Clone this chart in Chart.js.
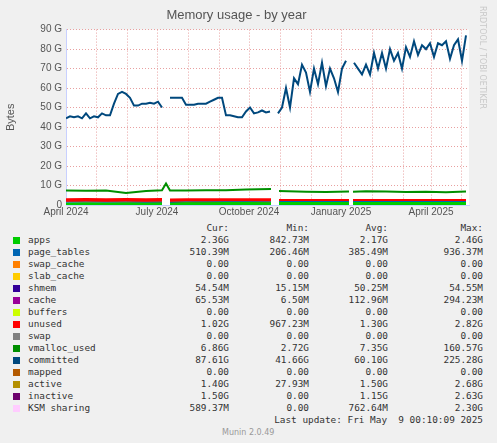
<!DOCTYPE html>
<html><head><meta charset="utf-8">
<script src="https://cdn.jsdelivr.net/npm/chart.js@4"></script>
<style>
body{margin:0;background:#f0f0f0;width:497px;height:443px;overflow:hidden;font-family:"DejaVu Sans",sans-serif}
#wrap{position:absolute;left:0;top:0;width:497px;height:222px}
#rrd{position:absolute;left:478px;top:6px;writing-mode:vertical-rl;font-size:8px;color:#c8c8c8}
table{position:absolute;left:10px;top:222px;border-collapse:collapse;font-family:"DejaVu Sans Mono",monospace;font-size:9.4px;color:#333;table-layout:fixed}
td{padding:0;height:12px;line-height:12px;white-space:pre;text-align:right;overflow:visible}
td.n{text-align:left}
.sw{display:inline-block;width:7px;height:7px;margin:0 8px 0 3px;vertical-align:-0.5px}
#upd{position:absolute;right:14px;top:414px;font-family:"DejaVu Sans Mono",monospace;font-size:9.4px;color:#333;white-space:pre}
#mun{position:absolute;left:222px;top:428px;font-size:8px;color:#999}
</style></head><body>
<div id="wrap"><canvas id="c"></canvas></div>
<div id="rrd">RRDTOOL / TOBI OETIKER</div>
<table id="leg"></table>
<div id="upd">Last update: Fri May  9 00:10:09 2025</div>
<div id="mun">Munin 2.0.49</div>
<script>
// days since 2024-04-01
const monthDays = [0,30,61,91,122,153,183,214,245,275,306,337,365,395];
const monthLabels = {0:"April 2024",91:"July 2024",183:"October 2024",275:"January 2025",365:"April 2025"};

const committedDays = [0,4,8,12,16,20,24,28,32,36,40,44,48,52,56,60,64,68,72,76,80,84,88,92,96,100,104,108,112,116,120,124,128,132,136,140,144,148,152,156,160,164,168,172,176,180,184,188,192,196,200,204,208,212,216,220,224,228,232,236,240,244,248,252,256,260,264,268,272,276,280,284,288,292,296,300,304,308,312,316,320,324,328,332,336,340,344,348,352,356,360,364,368,372,376,380,384,388,392,396,400];
const committed = [44.5,45.5,45,45.5,44.5,47,44.5,45.5,45,47,46,46,52,57,58,57,55,51,51,52,52,52.5,52,53,50,null,55,55,55,55,51.5,51.5,51.5,52,52,52,53,54,55,55,46,46,45.5,45,45,48,50,47,47.5,48.5,47.5,48,null,47,50,60,50,65,62,72,68,58,70,62,73,61,70,65,58,70,74,null,73,70,67,72,67,78,70,78,70,80,74,78,70,81,76,84,77,82,80,83,76,83,82,84,75,82,85,74,87];

const areaDays   = [0,20,40,60,80,96,100,104,120,140,160,180,205,209,213,240,260,283,285,287,300,320,340,360,380,400];
const apps       = [1.2,1.3,1.2,1.3,1.2,1.3,null,1.2,1.4,1.4,1.5,1.5,1.4,null,1.6,1.6,1.6,1.6,null,1.5,1.5,1.5,1.5,1.5,1.5,1.5];
const pageTables = [0.4,0.4,0.4,0.4,0.4,0.4,null,0.4,0.4,0.4,0.4,0.4,0.4,null,0.4,0.4,0.4,0.4,null,0.5,0.5,0.5,0.5,0.5,0.5,0.5];
const cache      = [0.1,0.1,0.1,0.1,0.1,0.1,null,0.1,0.1,0.1,0.1,0.1,0.1,null,0.1,0.1,0.1,0.1,null,0.1,0.1,0.1,0.1,0.1,0.1,0.1];
const unused     = [1.8,1.8,1.8,1.8,1.8,1.8,null,1.6,1.6,1.5,1.5,1.5,1.5,null,1.0,1.0,1.0,1.0,null,1.0,1.0,1.0,1.0,1.0,1.0,1.0];
const vmalloc    = [7.5,7.3,7.4,6.2,7.2,7.6,11,7.4,7.5,7.6,7.6,8,8.2,null,7.2,6.8,6.7,6.9,null,6.8,7,6.9,6.7,6.8,6.6,6.9];
const active     = [1.9,1.6,1.8,1.6,1.8,1.7,null,1.9,1.6,1.8,1.7,1.7,1.5,null,1.5,1.5,1.5,1.5,null,1.4,1.4,1.4,1.4,1.4,1.4,1.4];
const inactive   = [0.4,0.5,0.7,0.9,1.0,1.1,null,1.2,1.3,1.4,1.4,1.4,1.3,null,1.5,1.5,1.5,1.5,null,1.5,1.5,1.5,1.5,1.5,1.5,1.5];
const ksm        = [0.8,0.9,0.7,0.9,0.7,0.8,null,0.3,0.2,0.2,0.3,0.2,0.2,null,0.5,0.5,0.5,0.5,null,0.6,0.6,0.6,0.6,0.6,0.6,0.6];

const legendRows = [
 ["apps","#00cc00","2.36G","842.73M","2.17G","2.46G"],
 ["page_tables","#0066b3","510.39M","206.46M","385.49M","936.37M"],
 ["swap_cache","#ff8000","0.00","0.00","0.00","0.00"],
 ["slab_cache","#ffcc00","0.00","0.00","0.00","0.00"],
 ["shmem","#330099","54.54M","15.15M","50.25M","54.55M"],
 ["cache","#990099","65.53M","6.50M","112.96M","294.23M"],
 ["buffers","#ccff00","0.00","0.00","0.00","0.00"],
 ["unused","#ff0000","1.02G","967.23M","1.30G","2.82G"],
 ["swap","#808080","0.00","0.00","0.00","0.00"],
 ["vmalloc_used","#008f00","6.86G","2.72G","7.35G","160.57G"],
 ["committed","#00487d","87.61G","41.66G","60.10G","225.28G"],
 ["mapped","#b35a00","0.00","0.00","0.00","0.00"],
 ["active","#b38f00","1.40G","27.93M","1.50G","2.68G"],
 ["inactive","#6b006b","1.50G","0.00","1.15G","2.63G"],
 ["KSM sharing","#ffccff","589.37M","0.00","762.64M","2.30G"]
];

let html = '<colgroup><col style="width:150px"><col style="width:69px"><col style="width:80px"><col style="width:79px"><col style="width:95px"></colgroup>';
html += '<tr><td class="n"></td><td>Cur:</td><td>Min:</td><td>Avg:</td><td>Max:</td></tr>';
legendRows.forEach(r => {
  html += `<tr><td class="n"><span class="sw" style="background:${r[1]}"></span>${r[0]}</td><td>${r[2]}</td><td>${r[3]}</td><td>${r[4]}</td><td>${r[5]}</td></tr>`;
});
document.getElementById('leg').innerHTML = html;

const pts = (xs, ys) => xs.map((x, i) => ({x: x, y: ys[i]}));
const area = (label, col, ys) => ({label, data: pts(areaDays, ys), stack: 'mem', fill: 'stack', backgroundColor: col, borderColor: col, borderWidth: 0, pointRadius: 0, spanGaps: false});
const line = (label, col, xs, ys, w) => ({label, data: pts(xs, ys), stack: label, fill: false, borderColor: col, borderWidth: w, pointRadius: 0, spanGaps: false});

const plotBg = {
  id: 'plotBg',
  beforeDraw(chart) {
    const a = chart.chartArea, ctx = chart.ctx;
    ctx.save(); ctx.fillStyle = '#fff'; ctx.fillRect(a.left, a.top, a.width, a.height); ctx.restore();
  }
};

new Chart(document.getElementById('c'), {
  type: 'line',
  data: {datasets: [
    area('apps', '#00cc00', apps),
    area('page_tables', '#0066b3', pageTables),
    area('cache', '#990099', cache),
    area('unused', '#ff0000', unused),
    line('vmalloc_used', '#008f00', areaDays, vmalloc, 2),
    line('committed', '#00487d', committedDays, committed, 2),
    line('active', '#b38f00', areaDays, active, 1.5),
    line('inactive', '#6b006b', areaDays, inactive, 1.5),
    line('KSM sharing', '#ffccff', areaDays, ksm, 1.5)
  ]},
  plugins: [plotBg],
  options: {
    responsive: true, maintainAspectRatio: false, animation: false,
    layout: {padding: {left: 4, right: 28, top: 6, bottom: 3}},
    plugins: {
      legend: {display: false}, tooltip: {enabled: false},
      title: {display: true, text: 'Memory usage - by year', color: '#555', font: {size: 13, weight: 'normal'}, padding: {top: 2, bottom: 6}}
    },
    scales: {
      x: {type: 'linear', min: 0, max: 403,
        afterBuildTicks: s => { s.ticks = monthDays.map(v => ({value: v})); },
        ticks: {autoSkip: false, maxRotation: 0, color: '#555', font: {size: 10}, padding: 1,
          callback: v => monthLabels[v] || ''},
        grid: {color: '#e8a0a0', drawTicks: false}, border: {color: '#c8d0ff', dash: [1, 2]}},
      y: {min: 0, max: 90, stacked: true,
        afterFit: s => { s.width = 62; },
        ticks: {stepSize: 5, color: '#555', font: {size: 10}, padding: 4,
          callback: v => v % 10 === 0 ? (v === 0 ? '0' : v + ' G') : ''},
        grid: {color: c => c.tick.value % 10 === 0 ? '#e8a0a0' : '#d0d0d0', drawTicks: false},
        border: {color: '#c8d0ff', dash: [1, 2]},
        title: {display: true, text: 'Bytes', color: '#555', font: {size: 11}, padding: 0}}
    }
  }
});
</script>
</body></html>
